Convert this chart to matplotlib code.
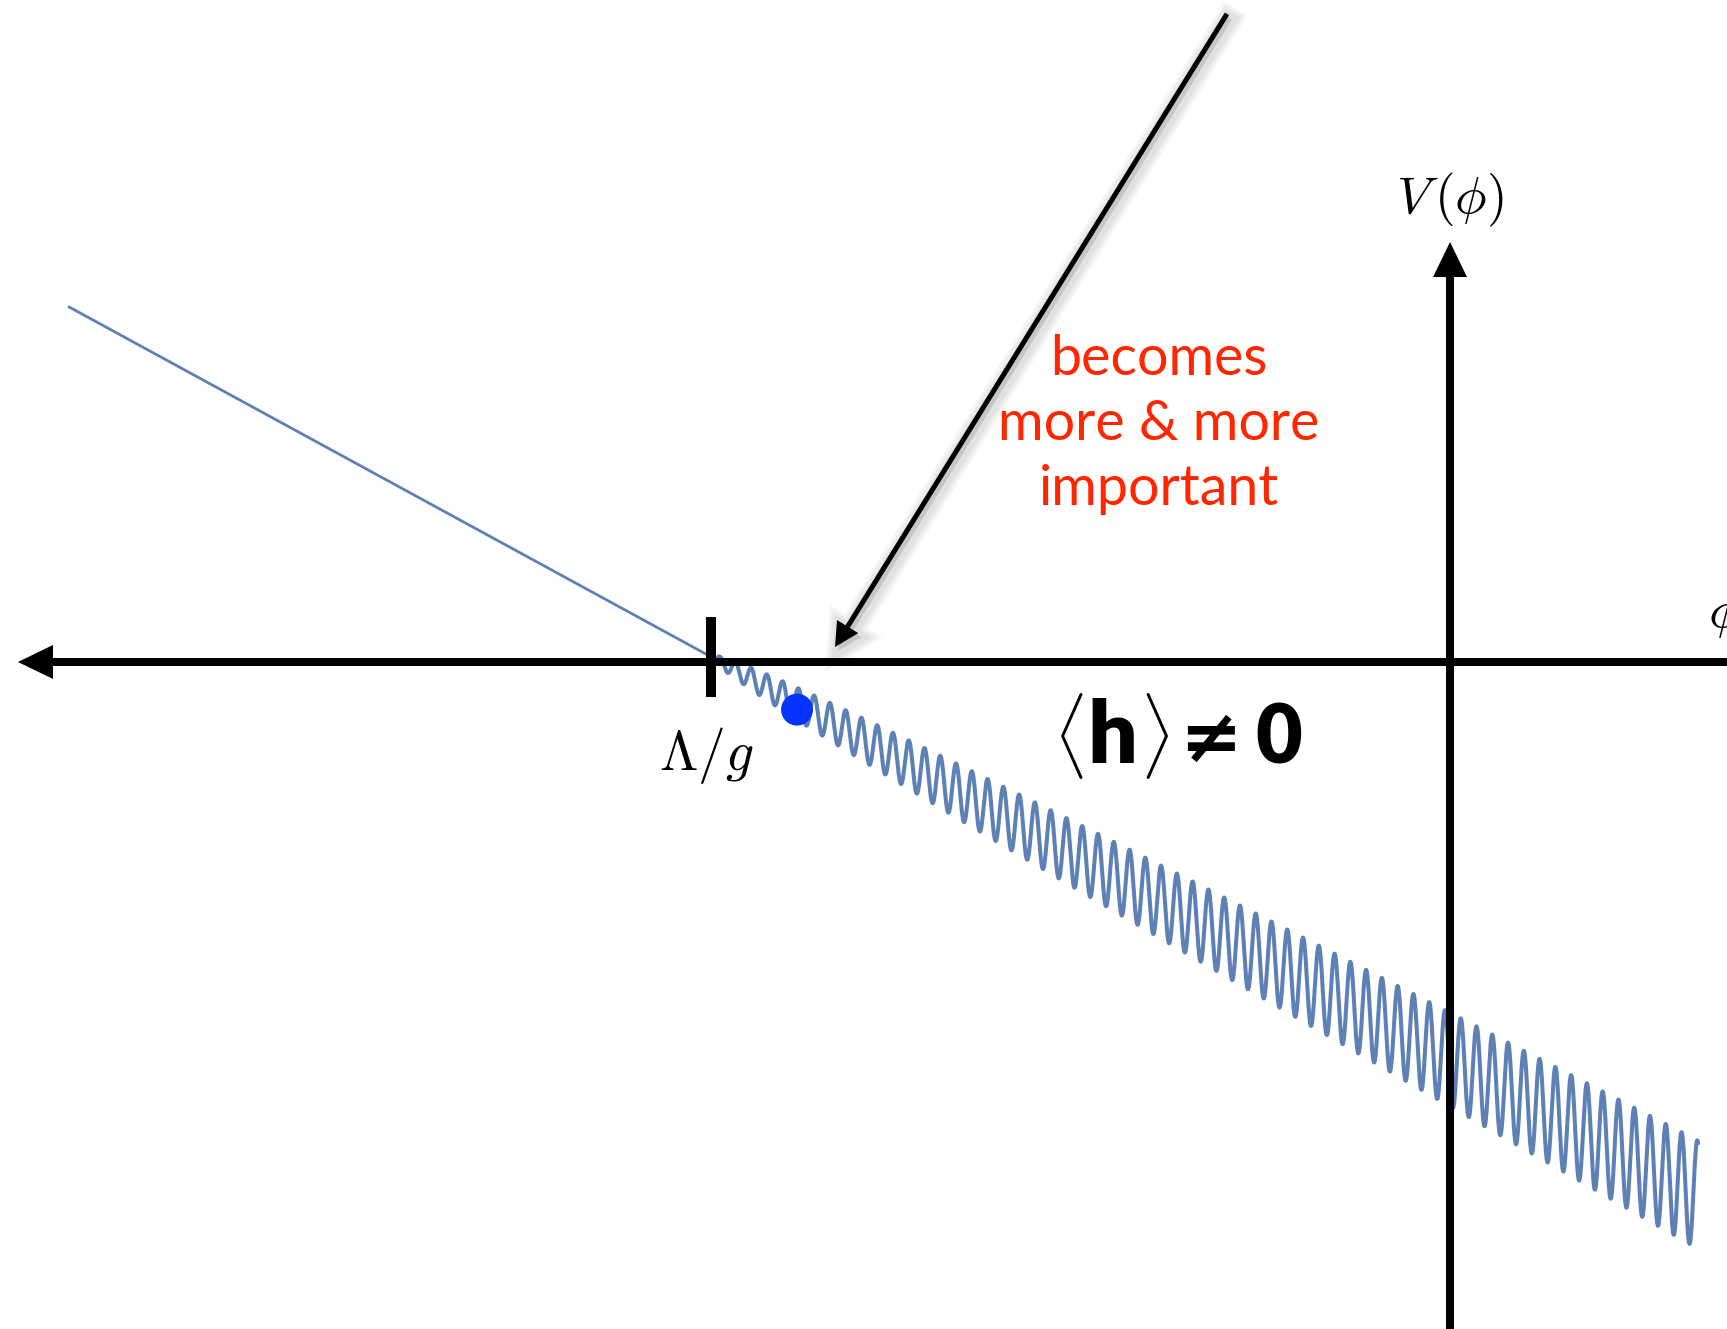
import numpy as np
import matplotlib
matplotlib.use("Agg")
import matplotlib.pyplot as plt
from matplotlib.patches import FancyArrow
import matplotlib.patheffects as pe

plt.rcParams["mathtext.fontset"] = "cm"

# ---- potential V(phi): linear slope plus a growing periodic wiggle past Lambda/g ----
phi_start, phi_cut, phi_end = -1.870, -1.0, 0.3356   # field range, Lambda/g, end of curve
slope, offset = -0.545, -0.538                       # linear part  V = slope*phi + offset
wiggle_amp = 0.0633                                  # amplitude scale of the periodic term
wiggle_period = 0.02134                              # period in phi
wiggle_phase = -0.00677                              # phi of a crest near the origin

phi_ball = -0.8836                                   # position of the field value marker

# view window (phi, V)
xlim = (-1.9621, 0.3748)
ylim = (-0.9026, 0.8958)

curve_color = "#5E81B5"
text_red = "#FF2600"


def v_linear(phi):
    return slope * phi + offset


def v_full(phi):
    grow = wiggle_amp * np.sqrt(np.clip(phi - phi_cut, 0, None))
    return v_linear(phi) + grow * np.cos(2 * np.pi * (phi - wiggle_phase) / wiggle_period)


fig = plt.figure(figsize=(17.27, 13.29), dpi=100)
ax = fig.add_axes([0, 0, 1, 1])
ax.set_xlim(*xlim)
ax.set_ylim(*ylim)
ax.set_axis_off()

# straight branch before Lambda/g
phi_l = np.linspace(phi_start, phi_cut, 200)
ax.plot(phi_l, v_linear(phi_l), color=curve_color, lw=2.0, solid_capstyle="butt", zorder=3)
# oscillating branch
phi_r = np.linspace(phi_cut, phi_end, 8000)
ax.plot(phi_r, v_full(phi_r), color=curve_color, lw=2.9, solid_joinstyle="round", zorder=3)

# coordinate axes with arrow heads
axis_w, head_w, head_l = 0.01083, 0.046, 0.0474
x_tip, y_tip = -1.9378, 0.5683
ax.add_patch(FancyArrow(xlim[1] + 0.01, 0, x_tip - xlim[1] - 0.01, 0, width=axis_w,
                        head_width=head_w, head_length=head_l,
                        length_includes_head=True, color="black", lw=0, zorder=4))
ax.add_patch(FancyArrow(0, ylim[0] - 0.01, 0, y_tip - ylim[0] + 0.01, width=axis_w,
                        head_width=head_w, head_length=head_l,
                        length_includes_head=True, color="black", lw=0, zorder=4))

# tick at Lambda/g
ax.plot([phi_cut, phi_cut], [-0.0474, 0.0609], color="black", lw=7.2,
        solid_capstyle="butt", zorder=5)

# soft shadow used by the pointer arrow and the ball
shadow = [pe.Stroke(linewidth=w, foreground="black", alpha=0.04, offset=(2, -3))
          for w in (16, 12, 8)] + [pe.Normal()]

# pointer arrow
p0 = (-0.3018, 0.877)
p1 = (-0.8322, 0.0203)
ax.add_patch(FancyArrow(p0[0], p0[1], p1[0] - p0[0], p1[1] - p0[1], width=0.00677,
                        head_width=0.0338, head_length=0.0325,
                        length_includes_head=True, color="black", lw=0, zorder=6,
                        path_effects=shadow))

# field value marker
ax.plot([phi_ball], [v_linear(phi_ball) - 0.008], "o", ms=23, color="#0433FF",
        mec="none", zorder=7,
        path_effects=[pe.SimpleLineShadow(offset=(2, -3), shadow_color="black",
                                          alpha=0.12, linewidth=0), pe.Normal()])

# labels
ax.text(0.0, 0.6076, r"$V\,(\phi)$", fontsize=38, ha="center", va="baseline")
ax.text(0.3491, 0.0474, r"$\phi$", fontsize=38, ha="left", va="baseline")
ax.text(-1.0068, -0.1461, r"$\Lambda/g$", fontsize=40, ha="center", va="baseline")

red_lines = ["becomes", "more & more", "important"]
red_base = [0.3884, 0.3004, 0.2124]
for s, yb in zip(red_lines, red_base):
    ax.text(-0.3938, yb, s, fontsize=40, family="Lato", color=text_red,
            ha="center", va="baseline")

# <h> != 0
yb = -0.1367
ax.text(-0.5372, yb, r"$\langle$", fontsize=52, ha="left", va="baseline")
ax.text(-0.4912, yb, "h", fontsize=63, family="Lato", weight="heavy", ha="left", va="baseline")
ax.text(-0.4195, yb, r"$\rangle$", fontsize=52, ha="left", va="baseline")
ax.text(-0.3660, yb + 0.002, "\u2260", fontsize=54, family="DejaVu Sans", weight="bold",
        ha="left", va="baseline")
ax.text(-0.2640, yb, "0", fontsize=58, family="Lato", weight="heavy", ha="left", va="baseline")

fig.savefig("out.png", dpi=100, facecolor="white")
